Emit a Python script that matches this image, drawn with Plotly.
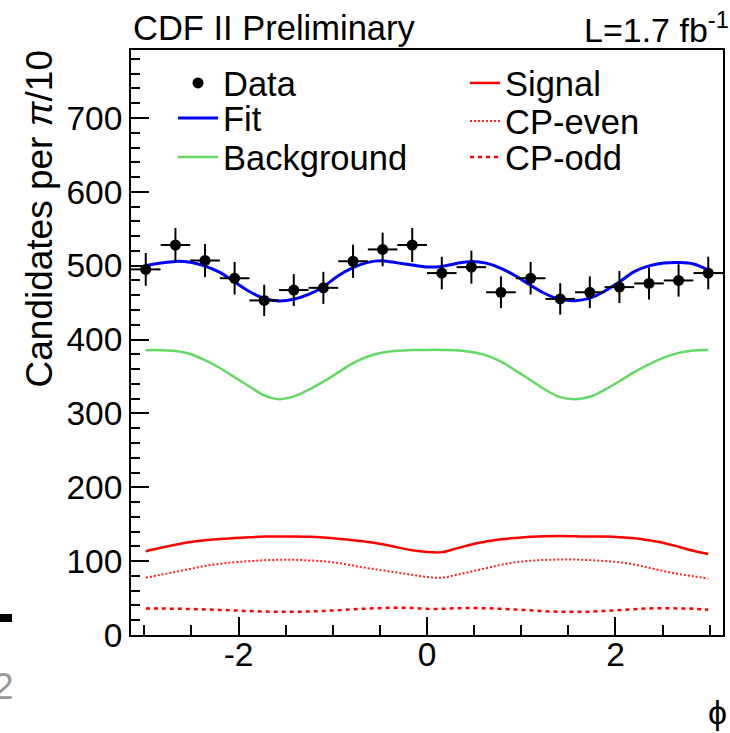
import plotly.graph_objects as go

# ---- data ----
bin_centers = [-2.985, -2.670, -2.356, -2.042, -1.728, -1.414, -1.100, -0.785, -0.471, -0.157,
               0.157, 0.471, 0.785, 1.100, 1.414, 1.728, 2.042, 2.356, 2.670, 2.985]
counts = [495, 528, 507, 483, 453, 467, 470, 506, 522, 528,
          490, 498, 464, 483, 455, 464, 471, 476, 480, 490]
count_err = [22.2, 23.0, 22.5, 22.0, 21.3, 21.6, 21.7, 22.5, 22.8, 23.0,
             22.1, 22.3, 21.5, 22.0, 21.3, 21.5, 21.7, 21.8, 21.9, 22.1]
bin_half_width = [0.157] * 20

phi_curve = [-2.985, -2.827, -2.670, -2.513, -2.356, -2.199, -2.042, -1.885, -1.728, -1.571,
             -1.414, -1.257, -1.100, -0.942, -0.785, -0.628, -0.471, -0.314, -0.157, 0.000,
             0.157, 0.314, 0.471, 0.628, 0.785, 0.942, 1.100, 1.257, 1.414, 1.571,
             1.728, 1.885, 2.042, 2.199, 2.356, 2.513, 2.670, 2.827, 2.985]
fit = [500, 503.5, 505.8, 504.6, 499.5, 491, 478, 465, 455.5, 452.2,
       454.5, 461, 471.5, 486.5, 497.5, 504.5, 506.5, 503.8, 501, 498.3,
       499, 503, 505.8, 503.5, 496.5, 486, 473.5, 462, 454.5, 452.6,
       456, 465.5, 478, 492, 499.7, 503.5, 504.2, 502.3, 494]
background = [385.6, 385.6, 384.5, 380.4, 372, 361.5, 349, 336.5, 324.5, 319.3,
              323, 332, 343, 355.5, 368, 377, 382.5, 385, 385.7, 386,
              386, 385.5, 383, 378.5, 370, 358, 345, 332, 322, 319.3,
              322.5, 332, 343.5, 356, 366.5, 375.5, 382, 385.3, 385.7]
signal = [113.3, 118, 122.3, 125.8, 128.4, 130, 131.2, 132.4, 133.2, 133.2,
          133.2, 132.9, 132, 130.4, 128.3, 126, 123, 118.6, 114.6, 112.3,
          112.2, 117.3, 122.6, 126.5, 129.5, 131.4, 132.9, 133.7, 134, 133.6,
          133.2, 133.2, 132.5, 131, 128.2, 124.6, 119.5, 114, 109.6]
cp_even = [77.5, 81.5, 85.5, 89.5, 93.5, 96.5, 98.5, 100, 101.3, 101.8,
           101.8, 101, 99.8, 97.5, 94, 90.5, 87.5, 84.5, 81.5, 78.5,
           77.6, 81.5, 86, 90.5, 95, 98.5, 100.5, 101.7, 102.2, 102.2,
           101.4, 100.2, 98.5, 95.5, 91, 86.5, 82.5, 79.5, 76.3]
cp_odd = [35.8, 35.8, 35.6, 35.2, 34.6, 34, 33.2, 32.4, 31.8, 31.4,
          31.4, 31.8, 32.6, 33.6, 34.8, 35.8, 36.6, 37, 36.6, 35.4,
          35.4, 36.2, 36.6, 36.2, 35.4, 34.4, 33.4, 32.2, 31.5, 31.4,
          31.6, 32.6, 33.8, 35, 35.9, 36.2, 36, 35.6, 34.3]

x_tickvals = [-2, 0, 2]
x_ticktext = ["-2", "0", "2"]
x_range = [-3.1416, 3.1416]
y_range = [0, 792]

FONT = "Liberation Sans, Arial, Helvetica, sans-serif"
L, R, T, B = 131, 723, 50, 635
W, H = R - L, B - T


def px(x):
    return (x - L) / W


def py(y):
    return (B - y) / H


fig = go.Figure()

curve_specs = [
    ("Fit", fit, dict(color="#0000ff", width=3), "legend2", 2),
    ("Background", background, dict(color="#66d966", width=2.5), "legend3", 3),
    ("Signal", signal, dict(color="#ff0000", width=2.5), "legend4", 4),
    ("CP-even", cp_even, dict(color="#ff2020", width=2, dash="2px,2px"), "legend5", 5),
    ("CP-odd", cp_odd, dict(color="#ff0000", width=2.5, dash="4px,4px"), "legend6", 6),
]
for name, vals, line, lg, rank in curve_specs:
    fig.add_trace(go.Scatter(
        x=phi_curve, y=vals, mode="lines", name=name,
        line=dict(shape="spline", smoothing=1.0, **line),
        legend=lg, legendrank=rank, hoverinfo="skip"))

fig.add_trace(go.Scatter(
    x=bin_centers, y=counts, mode="markers", name="Data",
    marker=dict(color="black", size=11),
    error_y=dict(type="data", array=count_err, color="black", thickness=2, width=0),
    error_x=dict(type="data", array=bin_half_width, color="black", thickness=2, width=0),
    legend="legend", legendrank=1))

leg_font = dict(family=FONT, size=34.5, color="black")
legend_pos = {
    "legend": (173, 83, 40),
    "legend2": (173, 118, 40),
    "legend3": (173, 157, 40),
    "legend4": (465, 83, 30),
    "legend5": (465, 121, 30),
    "legend6": (465, 157, 30),
}
legend_layout = {}
for key, (lx, ly, iw) in legend_pos.items():
    legend_layout[key] = dict(
        x=px(lx), y=py(ly), xanchor="left", yanchor="middle",
        xref="paper", yref="paper",
        font=leg_font, bgcolor="rgba(0,0,0,0)", borderwidth=0,
        itemwidth=iw, tracegroupgap=0)

axis_common = dict(
    showgrid=False, zeroline=False, showline=True, linecolor="black", linewidth=2,
    mirror=True, ticks="inside", tickcolor="black", tickwidth=1.5,
    tickfont=dict(family=FONT, size=33.5, color="black"),
)

fig.update_layout(
    width=730, height=733,
    margin=dict(l=L, r=730 - R, t=T, b=733 - B, autoexpand=False),
    paper_bgcolor="white", plot_bgcolor="white",
    font=dict(family=FONT, color="black"),
    showlegend=True,
    xaxis=dict(range=x_range, tickmode="array", tickvals=x_tickvals, ticktext=x_ticktext,
               ticklen=18,
               minor=dict(tick0=0, dtick=0.5, ticklen=10, tickwidth=1.5, tickcolor="black", ticks="inside"),
               ticklabelstandoff=-11, **axis_common),
    yaxis=dict(range=y_range, tick0=0, dtick=100, ticklen=18,
               minor=dict(dtick=20, ticklen=9, tickwidth=1.5, tickcolor="black", ticks="inside"),
               ticklabelstandoff=0,
               **axis_common),
    annotations=[
        dict(text="Candidates per <i>π</i>/10", textangle=-90, xref="paper", yref="paper",
             x=px(39), y=py(49), xanchor="center", yanchor="top", showarrow=False,
             font=dict(family=FONT, size=37, color="black")),
        dict(text="CDF II Preliminary", xref="paper", yref="paper", x=px(131), y=py(28),
             xanchor="left", yanchor="middle", showarrow=False,
             font=dict(family=FONT, size=34.5, color="black")),
        dict(text="L=1.7 fb<sup>-1</sup>", xref="paper", yref="paper", x=px(731), y=py(28),
             xanchor="right", yanchor="middle", showarrow=False,
             font=dict(family=FONT, size=34, color="black")),
        dict(text="ϕ", xref="paper", yref="paper", x=px(717), y=py(712),
             xanchor="center", yanchor="middle", showarrow=False,
             font=dict(family=FONT, size=34, color="black")),
        dict(text="2", xref="paper", yref="paper", x=px(3), y=py(686),
             xanchor="center", yanchor="middle", showarrow=False,
             font=dict(family=FONT, size=37, color="#999999")),
    ],
    shapes=[
        dict(type="rect", xref="paper", yref="paper", x0=px(-2), x1=px(12),
             y0=py(622), y1=py(614), fillcolor="black", line=dict(width=0)),
    ],
    **legend_layout,
)

fig.write_html("out.html")
